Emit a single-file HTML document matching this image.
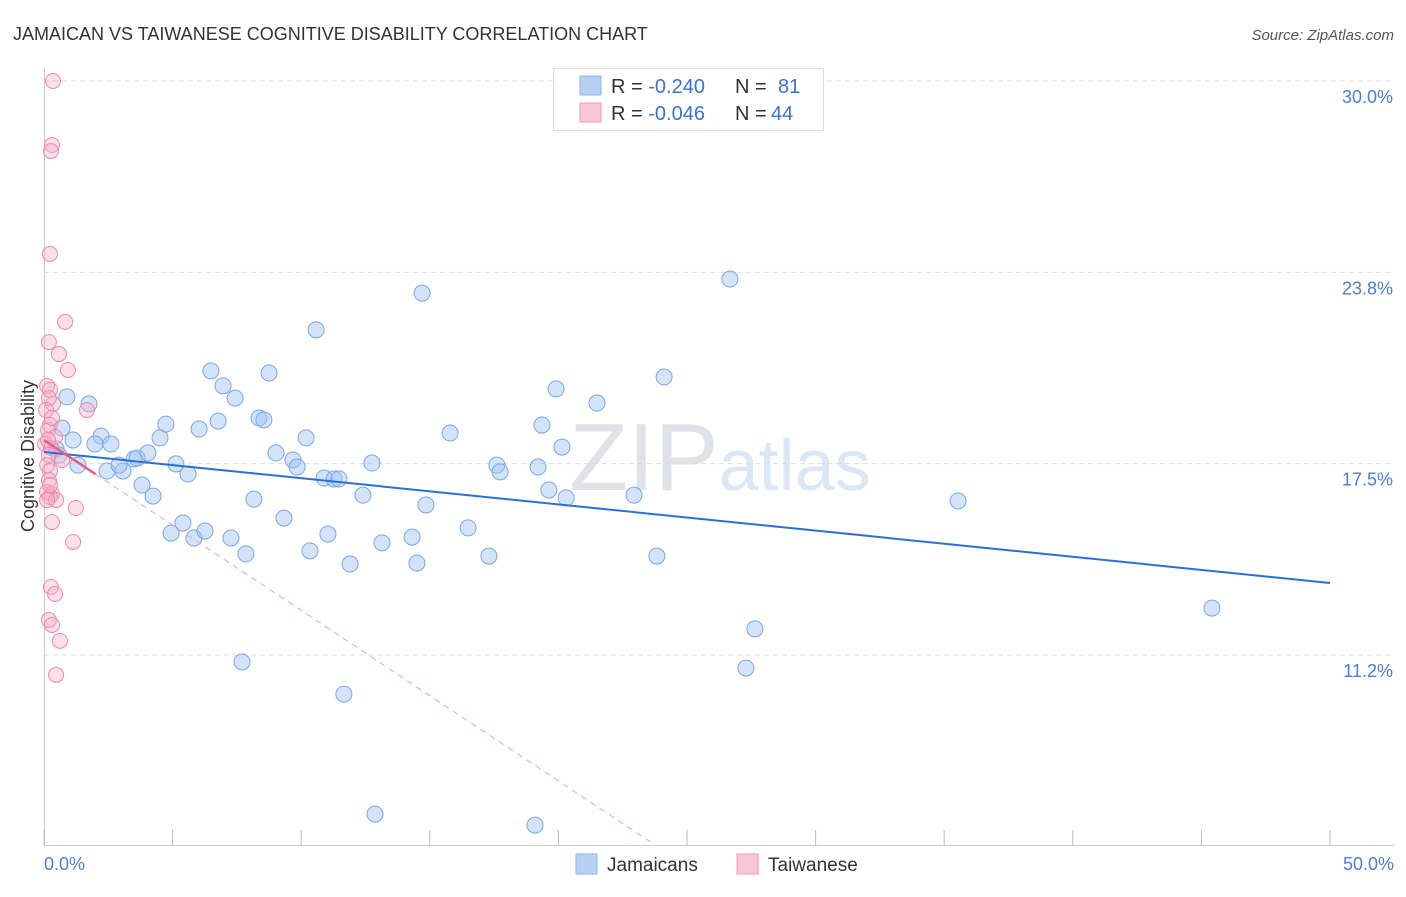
<!DOCTYPE html>
<html><head><meta charset="utf-8"><style>
body{margin:0;background:#fff;font-family:"Liberation Sans",sans-serif;}
svg text{font-family:"Liberation Sans",sans-serif;}
</style></head><body>
<svg id="chart" width="1406" height="892" xmlns="http://www.w3.org/2000/svg">
<text x="13" y="40" font-size="18" fill="#333">JAMAICAN VS TAIWANESE COGNITIVE DISABILITY CORRELATION CHART</text>
<text x="1394" y="40" font-size="15" fill="#555" text-anchor="end" font-style="italic">Source: ZipAtlas.com</text>
<text x="720" y="490" font-size="96" fill="#e4e8ee" text-anchor="middle" font-family="Liberation Serif"><tspan fill="#dfe2e6">ZIP</tspan><tspan fill="#dbe6f6" font-family="Liberation Sans" font-size="72">atlas</tspan></text>
<g id="grid"></g>
<g id="ticks"></g>
<g id="pts"></g>
<g id="trend"></g>
<text transform="translate(34,456) rotate(-90)" font-size="18" fill="#333" text-anchor="middle">Cognitive Disability</text>
<text x="44" y="870" font-size="18" fill="#4a7fd4">0.0%</text>
<text x="1394" y="870" font-size="18" fill="#4a7fd4" text-anchor="end">50.0%</text>
<g>
<rect x="553.5" y="68.5" width="270" height="62" fill="#fff" stroke="#ddd"/>
<rect x="580" y="76" width="21" height="19" fill="#b7d0f5" stroke="#8fb3ea"/>
<rect x="580" y="103" width="21" height="19" fill="#f9c6d6" stroke="#f09ab5"/>
<text x="611" y="93" font-size="20" fill="#333">R = <tspan fill="#3b73d0">-0.240</tspan><tspan x="735">N = </tspan><tspan x="778" fill="#3b73d0">81</tspan></text>
<text x="611" y="120" font-size="20" fill="#333">R = <tspan fill="#3b73d0">-0.046</tspan><tspan x="735">N = </tspan><tspan x="771" fill="#3b73d0">44</tspan></text>
</g>
<g>
<rect x="576" y="854" width="21" height="20" fill="#b7d0f5" stroke="#8fb3ea"/>
<text x="607" y="871" font-size="19" fill="#333">Jamaicans</text>
<rect x="737" y="854" width="21" height="20" fill="#f9c6d6" stroke="#f09ab5"/>
<text x="768" y="871" font-size="19" fill="#333">Taiwanese</text>
</g>
</svg>
<script>
const yTicks=[30,23.75,17.5,11.25];
const yTickLabels=["30.0%","23.8%","17.5%","11.2%"];
const xTicks=[0,5,10,15,20,25,30,35,40,45,50];
const blueX=[14.70,26.67,10.58,6.49,8.75,6.96,7.43,19.91,24.11,21.50,0.89,1.75,4.74,6.03,6.77,8.36,8.55,19.36,15.79,10.19,4.51,2.22,2.60,1.98,1.13,0.70,0.47,0.58,1.32,2.45,3.07,2.92,3.50,3.62,4.04,5.13,5.60,9.02,9.68,9.84,12.75,17.61,17.73,19.21,20.14,10.89,11.28,11.47,3.81,4.24,8.16,12.40,14.85,19.63,20.30,22.94,35.54,5.40,4.94,5.83,6.26,7.27,7.85,9.33,10.34,11.04,11.90,13.14,14.31,14.50,16.49,17.30,23.83,45.41,27.64,7.70,27.29,11.66,12.87,19.09];
const blueY=[23.07,23.53,21.87,20.53,20.46,20.04,19.64,19.94,20.33,19.48,19.68,19.45,18.79,18.63,18.89,18.99,18.93,18.76,18.50,18.34,18.34,18.40,18.14,18.14,18.27,18.66,17.98,17.78,17.45,17.26,17.26,17.45,17.65,17.68,17.85,17.49,17.16,17.85,17.62,17.39,17.52,17.45,17.23,17.39,18.04,17.03,17.00,17.00,16.80,16.44,16.34,16.47,16.15,16.64,16.38,16.47,16.28,15.56,15.23,15.07,15.30,15.07,14.55,15.72,14.65,15.20,14.22,14.91,15.10,14.25,15.40,14.48,14.48,12.78,12.10,11.02,10.82,9.97,6.05,5.69];
const pinkX=[0.35,0.31,0.27,0.23,0.82,0.19,0.58,0.93,0.12,0.23,0.35,1.67,0.19,0.23,0.16,0.43,0.04,0.27,0.19,0.70,0.12,0.23,0.19,0.12,0.31,0.23,0.47,1.24,0.31,1.13,0.27,0.43,0.19,0.31,0.62,0.47,0.16,0.08,0.31,0.12,0.23];
const pinkY=[30.00,27.91,27.71,24.35,22.13,21.47,21.08,20.56,20.04,19.91,19.45,19.25,19.64,18.76,18.60,18.37,18.14,18.01,17.78,17.62,17.45,17.26,16.96,16.57,16.51,16.41,16.31,16.05,15.59,14.94,13.47,13.24,12.39,12.23,11.71,10.60,18.27,19.25,18.99,16.31,16.80];
const blueTrend=[[0,17.88],[50,13.60]];
const pinkTrend=[[0,18.27],[2,17.16]];
const pinkDash=[[2,17.16],[23.76,5.04]];
const NS="http://www.w3.org/2000/svg";
const X=v=>44+v*25.72, Y=v=>81+(30-v)*30.61;
function mk(tag,attrs,parent){const e=document.createElementNS(NS,tag);for(const k in attrs)e.setAttribute(k,attrs[k]);parent.appendChild(e);return e;}
const grid=document.getElementById('grid');
yTicks.forEach((t,i)=>{
 const l=mk('line',{x1:44,x2:1394,y1:Y(t),y2:Y(t),stroke:'#ddd','stroke-dasharray':'5,4'},grid);
 
 
 const tx=mk('text',{x:1393,y:Y(t)+22,'font-size':18,fill:'#4a7fd4','text-anchor':'end'},grid);
 tx.textContent=yTickLabels[i];
 
 
});
const ticks=document.getElementById('ticks');
mk('line',{x1:44,x2:1394,y1:845.5,y2:845.5,stroke:'#ccc'},ticks);
mk('line',{x1:44.5,x2:44.5,y1:68,y2:845,stroke:'#ccc'},ticks);
xTicks.forEach(t=>{
 const l=mk('line',{x1:X(t),x2:X(t),y1:830,y2:845,stroke:'#bbb'},ticks);
 
 
});
const pts=document.getElementById('pts');
blueX.forEach((v,i)=>{
 const c=mk('circle',{cx:X(v),cy:Y(blueY[i]),r:8,fill:'rgba(160,195,240,0.45)',stroke:'#7aa6e6','stroke-width':1},pts);
 
 
});
pinkX.forEach((v,i)=>{
 const c=mk('circle',{cx:X(v),cy:Y(pinkY[i]),r:7.5,fill:'rgba(246,175,200,0.4)',stroke:'#ee88aa','stroke-width':1},pts);
 
 
});
const tr=document.getElementById('trend');
const b=mk('line',{x1:X(blueTrend[0][0]),y1:Y(blueTrend[0][1]),x2:X(blueTrend[1][0]),y2:Y(blueTrend[1][1]),stroke:'#2a6fd6','stroke-width':2},tr);


const pd=mk('line',{x1:X(pinkDash[0][0]),y1:Y(pinkDash[0][1]),x2:X(pinkDash[1][0]),y2:Y(pinkDash[1][1]),stroke:'#eaa0b8','stroke-width':1,'stroke-dasharray':'6,5'},tr);


const p=mk('line',{x1:X(pinkTrend[0][0]),y1:Y(pinkTrend[0][1]),x2:X(pinkTrend[1][0]),y2:Y(pinkTrend[1][1]),stroke:'#e0608a','stroke-width':2.5},tr);


</script>
</body></html>
